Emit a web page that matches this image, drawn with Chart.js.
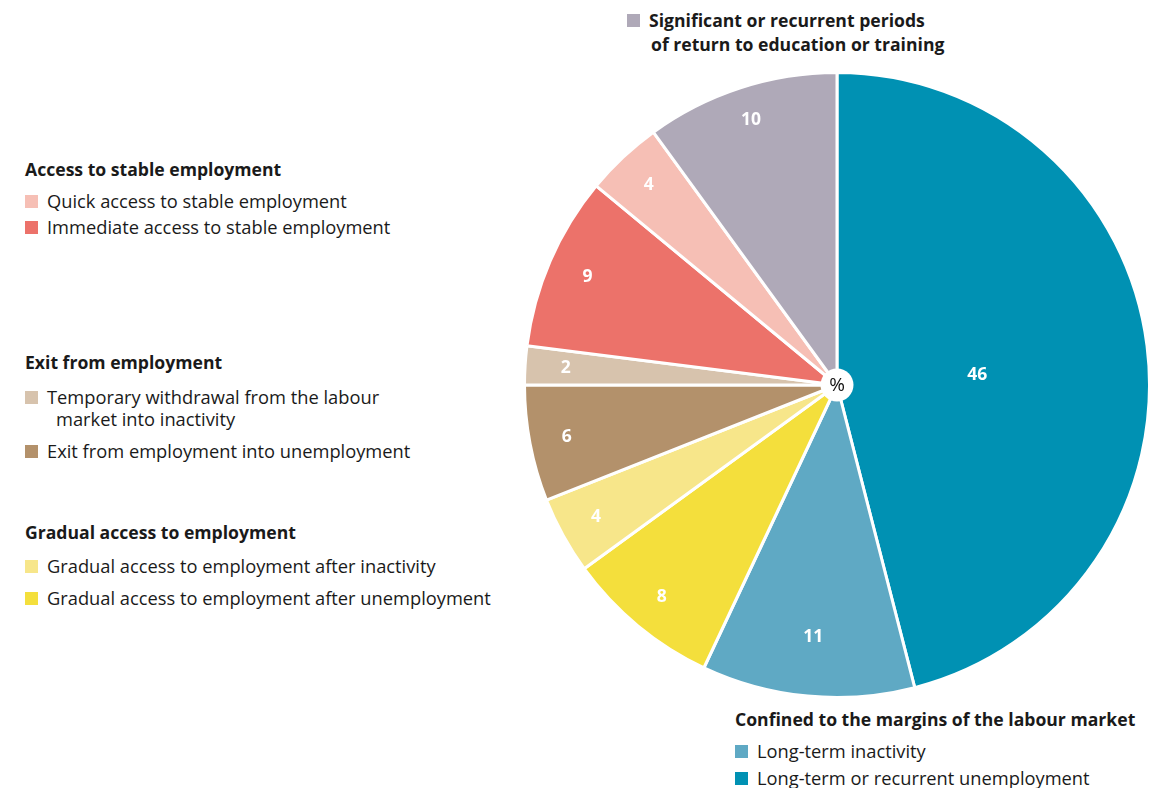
<!DOCTYPE html>
<html>
<head>
<meta charset="utf-8">
<script src="https://cdn.jsdelivr.net/npm/chart.js@4"></script>
<style>
  html, body { margin: 0; padding: 0; background: #fff; }
  body { width: 1160px; height: 788px; position: relative; overflow: hidden;
         font-family: "Open Sans", Lato, sans-serif; color: #1a1a1a; }
  #pieBox { position: absolute; left: 523px; top: 71px; width: 628px; height: 628px; }
  .legend { position: absolute; font-size: 18.3px; line-height: 22px; white-space: nowrap; }
  .legend .head { font-weight: bold; font-size: 17.6px; }
  .legend .item { position: relative; padding-left: 22px; }
  .legend .item i { position: absolute; left: 0; top: 5px; width: 13px; height: 13px; }
  .wrap { padding-left: 9px; display: block; line-height: 21px; }
</style>
</head>
<body>
<div id="pieBox"><canvas id="pathChart"></canvas></div>
<div id="legends"></div>

<script>
// Share of young people by labour market pathway (%)
const pathwayLabels = [
  'Long-term or recurrent unemployment',
  'Long-term inactivity',
  'Gradual access to employment after unemployment',
  'Gradual access to employment after inactivity',
  'Exit from employment into unemployment',
  'Temporary withdrawal from the labour market into inactivity',
  'Immediate access to stable employment',
  'Quick access to stable employment',
  'Significant or recurrent periods of return to education or training'
];
const pathwayShares = [46, 11, 8, 4, 6, 2, 9, 4, 10];
const pathwayColors = [
  '#0091b3', '#5fa9c4', '#f4df3c', '#f7e68a', '#b3916b',
  '#d7c3ad', '#ec726a', '#f6bfb5', '#afa9b8'
];

// Legend groups: heading + indices into the arrays above
const legendGroups = [
  { head: 'Access to stable employment', items: [7, 6], left: 25, top: 158, headGap: 21, gap: 4 },
  { head: 'Exit from employment', items: [5, 4], left: 25, top: 351, headGap: 24, gap: 11 },
  { head: 'Gradual access to employment', items: [3, 2], left: 25, top: 521, headGap: 23, gap: 10 },
  { head: 'Confined to the margins of the labour market', items: [1, 0], left: 735, top: 708, headGap: 21, gap: 5 }
];

function buildLegends() {
  const root = document.getElementById('legends');
  legendGroups.forEach(g => {
    const box = document.createElement('div');
    box.className = 'legend';
    box.style.left = g.left + 'px';
    box.style.top = g.top + 'px';
    let html = `<div class="head" style="margin-bottom:${g.headGap - 11}px">${g.head}</div>`;
    g.items.forEach((i, k) => {
      let text = pathwayLabels[i];
      if (i === 5) {
        text = 'Temporary withdrawal from the labour<span class="wrap">market into inactivity</span>';
      }
      const mt = k > 0 ? g.gap : 0;
      html += `<div class="item" style="margin-top:${mt}px"><i style="background:${pathwayColors[i]}"></i>${text}</div>`;
    });
    box.innerHTML = html;
    root.appendChild(box);
  });

  // education / training sits above the pie
  const edu = document.createElement('div');
  edu.className = 'legend';
  edu.style.left = '627px';
  edu.style.top = '9px';
  edu.style.fontWeight = 'bold';
  edu.style.fontSize = '17.6px';
  edu.innerHTML = `<div class="item"><i style="background:${pathwayColors[8]}"></i>Significant or recurrent periods` +
    `<span style="display:block;padding-left:2px;line-height:26px">of return to education or training</span></div>`;
  root.appendChild(edu);
}

// Value labels inside the slices + white hub with "%"
const sliceLabels = {
  id: 'sliceLabels',
  afterDatasetsDraw(chart, args, opts) {
    const ctx = chart.ctx;
    const arcs = chart.getDatasetMeta(0).data;
    ctx.save();
    ctx.textAlign = 'center';
    ctx.textBaseline = 'middle';
    arcs.forEach((arc, i) => {
      const t = opts.along[i] !== undefined ? opts.along[i] : 0.5;
      const ang = arc.startAngle + (arc.endAngle - arc.startAngle) * t;
      const r = arc.outerRadius * (opts.radius[i] || 0.88);
      ctx.fillStyle = '#fff';
      ctx.font = 'bold 17.5px "Open Sans", Lato, sans-serif';
      ctx.fillText(pathwayShares[i], arc.x + Math.cos(ang) * r, arc.y + Math.sin(ang) * r);
    });
    const c = arcs[0];
    ctx.beginPath();
    ctx.arc(c.x, c.y, 16.5, 0, Math.PI * 2);
    ctx.fillStyle = '#fff';
    ctx.fill();
    ctx.fillStyle = '#111';
    ctx.font = '19px "Open Sans", Lato, sans-serif';
    ctx.fillText('%', c.x, c.y + 1);
    ctx.restore();
  }
};

document.addEventListener('DOMContentLoaded', function() {
  buildLegends();
  new Chart(document.getElementById('pathChart'), {
    type: 'pie',
    data: {
      labels: pathwayLabels,
      datasets: [{
        data: pathwayShares,
        backgroundColor: pathwayColors,
        borderColor: '#fff',
        borderWidth: 3
      }]
    },
    options: {
      responsive: true,
      maintainAspectRatio: false,
      animation: false,
      layout: { padding: 0 },
      plugins: {
        legend: { display: false },
        tooltip: { enabled: false },
        sliceLabels: {
          radius: [0.45, 0.81, 0.88, 0.88, 0.88, 0.87, 0.87, 0.88, 0.89],
          along: [0.52]
        }
      }
    },
    plugins: [sliceLabels]
  });
});
</script>
</body>
</html>
